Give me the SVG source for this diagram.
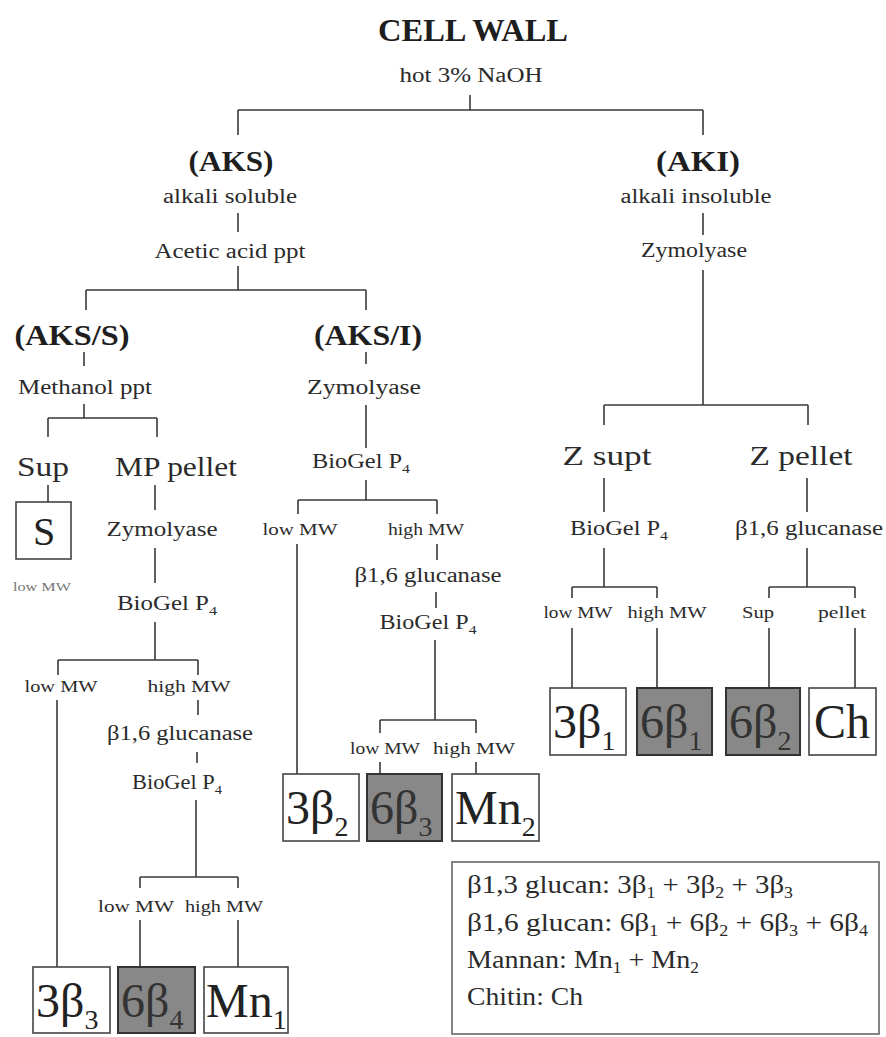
<svg xmlns="http://www.w3.org/2000/svg" width="886" height="1037" viewBox="0 0 886 1037">
<style>
.ln{stroke:#3a3a3a;stroke-width:1.6;fill:none}
.t{font-family:"Liberation Serif","Times New Roman",serif;fill:#2b2b2b;text-anchor:middle;font-size:20px}
.h{font-weight:bold;font-size:29px;fill:#1e1e1e}
.m{font-size:27px}
.s{font-size:17px}
.p4{font-size:13px}
.bx{font-family:"Liberation Serif","Times New Roman",serif;fill:#222;font-size:48px}
.sub{font-size:28px}
.box{fill:#fff;stroke:#444;stroke-width:1.6}
.gbox{fill:#888;stroke:#333;stroke-width:2}
.lg{font-family:"Liberation Serif","Times New Roman",serif;fill:#2b2b2b;font-size:26px}
.ls{font-size:16px}
</style>
<rect width="886" height="1037" fill="#fff"/>
<g id="connectors">
<path class="ln" d="M470 95V110M238 110H703M238 110V135M703 110V135"/>
<path class="ln" d="M238 213V232M238 266V290M86 290H366M86 290V310M366 290V310"/>
<path class="ln" d="M703 213V235M703 270V405M604 405H808M604 405V425M808 405V425"/>
<path class="ln" d="M84 352V366M84 404V418M48 418H157M48 418V437M157 418V437M48 485V502"/>
<path class="ln" d="M155 485V510M155 548V583M155 622V660M58 660H198M58 660V675M198 660V675"/>
<path class="ln" d="M57 700V967M198 700V715M197 752V763M196 800V877M140 877H238M140 877V888M238 877V888M140 920V967M238 920V967"/>
<path class="ln" d="M366 352V364M366 405V448M366 480V500M298 500H437M298 500V514M437 500V514"/>
<path class="ln" d="M297 544V774M437 544V560M436 592V608M435 640V720M380 720H476M380 720V733M476 720V733M380 762V774M476 762V774"/>
<path class="ln" d="M604 478V512M604 548V587M572 587H657M572 587V598M657 587V598M572 628V688M657 628V688"/>
<path class="ln" d="M807 478V512M807 548V587M769 587H855M769 587V598M855 587V598M769 628V688M855 628V688"/>
</g>
<g id="cell-wall"><text class="t h" x="473" y="41" style="font-size:32px" textLength="190" lengthAdjust="spacingAndGlyphs">CELL WALL</text></g>
<g id="naoh"><text class="t" x="471" y="82" textLength="143" lengthAdjust="spacingAndGlyphs">hot 3% NaOH</text></g>
<g id="aks"><text class="t h" x="231" y="171" textLength="85" lengthAdjust="spacingAndGlyphs">(AKS)</text>
<text class="t" x="230" y="203" textLength="134" lengthAdjust="spacingAndGlyphs">alkali soluble</text></g>
<g id="acetic"><text class="t" x="230" y="258" textLength="151" lengthAdjust="spacingAndGlyphs">Acetic acid ppt</text></g>
<g id="aki"><text class="t h" x="698" y="171" textLength="84" lengthAdjust="spacingAndGlyphs">(AKI)</text>
<text class="t" x="696" y="203" textLength="151" lengthAdjust="spacingAndGlyphs">alkali insoluble</text></g>
<g id="aki-zymo"><text class="t" x="694" y="257" textLength="106" lengthAdjust="spacingAndGlyphs">Zymolyase</text></g>
<g id="aks-s"><text class="t h" x="72" y="345" textLength="115" lengthAdjust="spacingAndGlyphs">(AKS/S)</text></g>
<g id="methanol"><text class="t" x="85" y="394" textLength="134" lengthAdjust="spacingAndGlyphs">Methanol ppt</text></g>
<g id="sup"><text class="t m" x="43" y="476" textLength="52" lengthAdjust="spacingAndGlyphs">Sup</text></g>
<g id="mp-pellet"><text class="t m" x="176" y="476" textLength="122" lengthAdjust="spacingAndGlyphs">MP pellet</text></g>
<g id="box-S"><rect class="box" x="16" y="502" width="55" height="57"/><text class="bx" x="44" y="545" text-anchor="middle" style="font-size:40px">S</text>
<text class="t" x="42" y="591" style="font-size:12px;fill:#777" textLength="58" lengthAdjust="spacingAndGlyphs">low MW</text></g>
<g id="mp-zymo"><text class="t" x="162" y="536" textLength="111" lengthAdjust="spacingAndGlyphs">Zymolyase</text></g>
<g id="mp-biogel"><text class="t" x="167" y="610" textLength="100" lengthAdjust="spacingAndGlyphs">BioGel P<tspan class="p4" dy="5">4</tspan></text></g>
<g id="mp-low"><text class="t s" x="61" y="692" textLength="73" lengthAdjust="spacingAndGlyphs">low MW</text></g>
<g id="mp-high"><text class="t s" x="189" y="692" textLength="83" lengthAdjust="spacingAndGlyphs">high MW</text></g>
<g id="mp-glucanase"><text class="t" x="180" y="740" textLength="146" lengthAdjust="spacingAndGlyphs">β1,6 glucanase</text></g>
<g id="mp-biogel2"><text class="t" x="177" y="789" textLength="90" lengthAdjust="spacingAndGlyphs">BioGel P<tspan class="p4" dy="5">4</tspan></text></g>
<g id="mp-low2"><text class="t s" x="136" y="912" textLength="76" lengthAdjust="spacingAndGlyphs">low MW</text></g>
<g id="mp-high2"><text class="t s" x="224" y="912" textLength="78" lengthAdjust="spacingAndGlyphs">high MW</text></g>
<g id="box-3b3"><rect class="box" x="33" y="967" width="77" height="66"/><text class="bx" x="36" y="1017">3β<tspan class="sub" dy="12">3</tspan></text></g>
<g id="box-6b4"><rect class="gbox" x="118" y="967" width="77" height="66"/><text class="bx" x="121" y="1017" style="fill:#333">6β<tspan class="sub" dy="12">4</tspan></text></g>
<g id="box-mn1"><rect class="box" x="204" y="967" width="84" height="66"/><text class="bx" x="206" y="1017">Mn<tspan class="sub" dy="12">1</tspan></text></g>
<g id="aks-i"><text class="t h" x="368" y="345" textLength="108" lengthAdjust="spacingAndGlyphs">(AKS/I)</text></g>
<g id="aksi-zymo"><text class="t" x="364" y="394" textLength="114" lengthAdjust="spacingAndGlyphs">Zymolyase</text></g>
<g id="aksi-biogel"><text class="t" x="361" y="468" textLength="98" lengthAdjust="spacingAndGlyphs">BioGel P<tspan class="p4" dy="5">4</tspan></text></g>
<g id="aksi-low"><text class="t s" x="300" y="535" textLength="75" lengthAdjust="spacingAndGlyphs">low MW</text></g>
<g id="aksi-high"><text class="t s" x="426" y="535" textLength="76" lengthAdjust="spacingAndGlyphs">high MW</text></g>
<g id="aksi-glucanase"><text class="t" x="428" y="582" textLength="147" lengthAdjust="spacingAndGlyphs">β1,6 glucanase</text></g>
<g id="aksi-biogel2"><text class="t" x="428" y="629" textLength="97" lengthAdjust="spacingAndGlyphs">BioGel P<tspan class="p4" dy="5">4</tspan></text></g>
<g id="aksi-low2"><text class="t s" x="385" y="754" textLength="70" lengthAdjust="spacingAndGlyphs">low MW</text></g>
<g id="aksi-high2"><text class="t s" x="474" y="754" textLength="82" lengthAdjust="spacingAndGlyphs">high MW</text></g>
<g id="box-3b2"><rect class="box" x="283" y="774" width="76" height="67"/><text class="bx" x="286" y="824">3β<tspan class="sub" dy="12">2</tspan></text></g>
<g id="box-6b3"><rect class="gbox" x="367" y="774" width="75" height="67"/><text class="bx" x="370" y="824" style="fill:#333">6β<tspan class="sub" dy="12">3</tspan></text></g>
<g id="box-mn2"><rect class="box" x="452" y="774" width="87" height="67"/><text class="bx" x="455" y="824">Mn<tspan class="sub" dy="12">2</tspan></text></g>
<g id="z-supt"><text class="t m" x="607" y="465" style="font-size:28px" textLength="89" lengthAdjust="spacingAndGlyphs">Z supt</text></g>
<g id="z-pellet"><text class="t m" x="801" y="465" style="font-size:28px" textLength="103" lengthAdjust="spacingAndGlyphs">Z pellet</text></g>
<g id="z-biogel"><text class="t" x="619" y="535" textLength="98" lengthAdjust="spacingAndGlyphs">BioGel P<tspan class="p4" dy="5">4</tspan></text></g>
<g id="z-glucanase"><text class="t" x="809" y="535" textLength="148" lengthAdjust="spacingAndGlyphs">β1,6 glucanase</text></g>
<g id="z-low"><text class="t s" x="578" y="618" textLength="69" lengthAdjust="spacingAndGlyphs">low MW</text></g>
<g id="z-high"><text class="t s" x="667" y="618" textLength="79" lengthAdjust="spacingAndGlyphs">high MW</text></g>
<g id="z-sup"><text class="t s" x="758" y="618" textLength="32" lengthAdjust="spacingAndGlyphs">Sup</text></g>
<g id="z-pel"><text class="t s" x="842" y="618" textLength="48" lengthAdjust="spacingAndGlyphs">pellet</text></g>
<g id="box-3b1"><rect class="box" x="550" y="688" width="76" height="67"/><text class="bx" x="553" y="738">3β<tspan class="sub" dy="12">1</tspan></text></g>
<g id="box-6b1"><rect class="gbox" x="637" y="688" width="75" height="67"/><text class="bx" x="640" y="738" style="fill:#333">6β<tspan class="sub" dy="12">1</tspan></text></g>
<g id="box-6b2"><rect class="gbox" x="726" y="688" width="74" height="67"/><text class="bx" x="729" y="738" style="fill:#333">6β<tspan class="sub" dy="12">2</tspan></text></g>
<g id="box-ch"><rect class="box" x="809" y="688" width="67" height="67"/><text class="bx" x="842" y="738" text-anchor="middle">Ch</text></g>
<g id="legend"><rect class="box" x="452" y="862" width="427" height="172" style="stroke:#666"/>
<text class="lg" x="467" y="893" textLength="326" lengthAdjust="spacingAndGlyphs">β1,3 glucan: 3β<tspan class="ls" dy="5">1</tspan><tspan dy="-5"> + 3β</tspan><tspan class="ls" dy="5">2</tspan><tspan dy="-5"> + 3β</tspan><tspan class="ls" dy="5">3</tspan></text>
<text class="lg" x="467" y="931" textLength="401" lengthAdjust="spacingAndGlyphs">β1,6 glucan: 6β<tspan class="ls" dy="5">1</tspan><tspan dy="-5"> + 6β</tspan><tspan class="ls" dy="5">2</tspan><tspan dy="-5"> + 6β</tspan><tspan class="ls" dy="5">3</tspan><tspan dy="-5"> + 6β</tspan><tspan class="ls" dy="5">4</tspan></text>
<text class="lg" x="467" y="968" textLength="232" lengthAdjust="spacingAndGlyphs">Mannan: Mn<tspan class="ls" dy="5">1</tspan><tspan dy="-5"> + Mn</tspan><tspan class="ls" dy="5">2</tspan></text>
<text class="lg" x="467" y="1005" textLength="116" lengthAdjust="spacingAndGlyphs">Chitin: Ch</text></g>
</svg>
